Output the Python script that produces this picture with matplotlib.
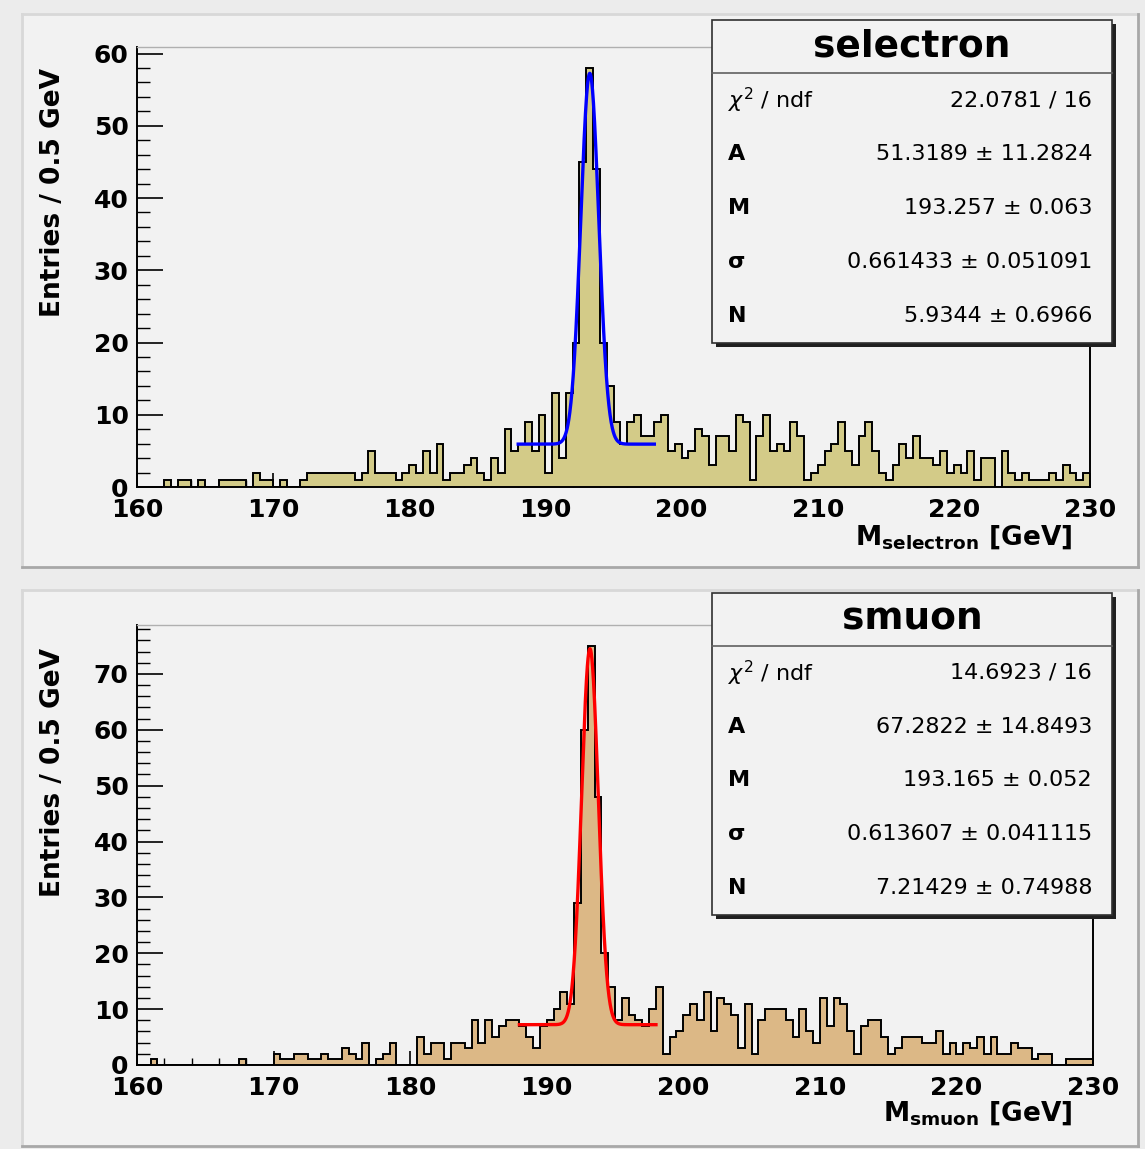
import numpy as np
import matplotlib
matplotlib.use("Agg")
import matplotlib.pyplot as plt
from matplotlib.patches import Rectangle
from matplotlib.lines import Line2D
from matplotlib.ticker import MultipleLocator

# ---------------- data ----------------
bin_edges = np.arange(160.0, 230.0001, 0.5)

selectron_counts = [
    0, 0, 0, 0, 1, 0, 1, 1, 0, 1,
    0, 0, 1, 1, 1, 1, 0, 2, 1, 1,
    0, 1, 0, 0, 1, 2, 2, 2, 2, 2,
    2, 2, 1, 2, 5, 2, 2, 2, 1, 2,
    3, 2, 5, 2, 6, 1, 2, 2, 3, 4,
    2, 1, 4, 2, 8, 5, 6, 9, 5, 10,
    2, 13, 4, 13, 20, 45, 58, 44, 20, 14,
    9, 6, 9, 10, 7, 7, 9, 10, 5, 6,
    4, 5, 8, 7, 3, 7, 7, 5, 10, 9,
    1, 7, 10, 5, 6, 5, 9, 7, 1, 2,
    3, 5, 6, 9, 5, 3, 7, 9, 5, 2,
    1, 3, 6, 4, 7, 4, 4, 3, 5, 2,
    3, 2, 5, 1, 4, 4, 0, 5, 2, 1,
    2, 1, 1, 1, 2, 1, 3, 2, 1, 2,
]

smuon_counts = [
    0, 0, 1, 0, 0, 0, 0, 0, 0, 0,
    0, 0, 0, 0, 0, 1, 0, 0, 0, 0,
    2, 1, 1, 2, 2, 1, 1, 2, 1, 1,
    3, 2, 1, 4, 0, 1, 2, 4, 0, 0,
    0, 5, 2, 4, 4, 1, 4, 4, 3, 8,
    4, 8, 5, 7, 8, 8, 7, 5, 3, 7,
    8, 10, 13, 11, 29, 60, 75, 48, 20, 14,
    8, 12, 9, 8, 7, 10, 14, 2, 5, 6,
    9, 11, 8, 13, 6, 12, 11, 9, 3, 11,
    2, 8, 10, 10, 10, 8, 5, 10, 6, 4,
    12, 7, 12, 11, 6, 2, 7, 8, 8, 5,
    2, 3, 5, 5, 5, 4, 4, 6, 2, 4,
    2, 4, 3, 5, 2, 5, 2, 2, 4, 3,
    3, 1, 2, 2, 0, 0, 1, 1, 1, 1,
]

# fit parameters (gaus + const), fit range
fit_range = [188.0, 198.0]
selectron_par_names = ["A", "M", "\u03c3", "N"]
selectron_par_vals = ["51.3189", "193.257", "0.661433", "5.9344"]
selectron_par_errs = ["11.2824", "0.063", "0.051091", "0.6966"]
selectron_chi2 = "22.0781 / 16"
selectron_fit = [51.3189, 193.257, 0.661433, 5.9344]

smuon_par_names = ["A", "M", "\u03c3", "N"]
smuon_par_vals = ["67.2822", "193.165", "0.613607", "7.21429"]
smuon_par_errs = ["14.8493", "0.052", "0.041115", "0.74988"]
smuon_chi2 = "14.6923 / 16"
smuon_fit = [67.2822, 193.165, 0.613607, 7.21429]

x_ticks = [160, 170, 180, 190, 200, 210, 220, 230]

# ---------------- layout ----------------
W, H = 1145, 1149
fig = plt.figure(figsize=(W / 100, H / 100), dpi=100)
fig.patch.set_facecolor("#ececec")
plt.rcParams["font.family"] = ["DejaVu Sans"]
plt.rcParams["mathtext.fontset"] = "dejavusans"

PAD_BG = "#f2f2f2"


def fx(x):
    return x / W


def fy(y):
    return 1 - y / H


def pad_box(x0, y0, x1, y1):
    r = Rectangle((fx(x0), fy(y1)), fx(x1) - fx(x0), fy(y0) - fy(y1),
                  transform=fig.transFigure, facecolor=PAD_BG,
                  edgecolor="none", zorder=0)
    fig.add_artist(r)
    fig.add_artist(Line2D([fx(x0), fx(x1)], [fy(y0), fy(y0)], transform=fig.transFigure, color="#d8d8d8", lw=2, zorder=1))
    fig.add_artist(Line2D([fx(x0), fx(x0)], [fy(y0), fy(y1)], transform=fig.transFigure, color="#d8d8d8", lw=2, zorder=1))
    fig.add_artist(Line2D([fx(x0), fx(x1)], [fy(y1), fy(y1)], transform=fig.transFigure, color="#a8a8a8", lw=2, zorder=1))
    fig.add_artist(Line2D([fx(x1), fx(x1)], [fy(y0), fy(y1)], transform=fig.transFigure, color="#a8a8a8", lw=2, zorder=1))


pad_box(22, 14, 1138, 567)
pad_box(22, 590, 1138, 1146)


def gaus_const(x, p):
    A, M, s, N = p
    return A * np.exp(-0.5 * ((x - M) / s) ** 2) + N


def draw_panel(frame, counts, fill, fitcolor, fitpar, ymax, yticks,
               title, chi2, names, vals, errs, box, xlab_sub, xlab_y, ylab_top):
    x0, y0, x1, y1 = frame
    ax = fig.add_axes([fx(x0), fy(y1), fx(x1) - fx(x0), fy(y0) - fy(y1)])
    ax.set_facecolor(PAD_BG)
    ax.stairs(counts, bin_edges, fill=True, color=fill, zorder=2)
    ax.stairs(counts, bin_edges, color="black", lw=1.4, zorder=3)
    xf = np.linspace(fit_range[0], fit_range[1], 600)
    ax.plot(xf, gaus_const(xf, fitpar), color=fitcolor, lw=2.4, zorder=4)
    ax.set_xlim(160, 230)
    ax.set_ylim(0, ymax)
    ax.set_xticks(x_ticks)
    ax.set_xticklabels([str(t) for t in x_ticks])
    ax.xaxis.set_minor_locator(MultipleLocator(2))
    ax.set_yticks(yticks)
    ax.yaxis.set_minor_locator(MultipleLocator(2))
    ax.tick_params(axis="x", which="major", direction="in", length=10, width=1.2,
                   labelsize=18, pad=8, top=False)
    ax.tick_params(axis="x", which="minor", direction="in", length=5, width=1.0, top=False)
    ax.tick_params(axis="y", which="major", direction="in", length=19, width=1.2,
                   labelsize=18, pad=6, right=False)
    ax.tick_params(axis="y", which="minor", direction="in", length=9.5, width=1.0, right=False)
    for lab in ax.get_xticklabels() + ax.get_yticklabels():
        lab.set_fontweight("bold")
    for side in ["left", "bottom", "right"]:
        ax.spines[side].set_color("black")
        ax.spines[side].set_linewidth(1.4)
    ax.spines["top"].set_color("#b0b0b0")
    ax.spines["top"].set_linewidth(1.0)
    fig.text(fx(53), fy(ylab_top), "Entries / 0.5 GeV", fontsize=19,
             fontweight="bold", rotation=90, ha="center", va="top")
    fig.text(fx(1072), fy(xlab_y),
             r"$\mathbf{M}_{\mathbf{%s}}$ [GeV]" % xlab_sub,
             fontsize=19, fontweight="bold", ha="right", va="center")

    # stats box
    bx0, by0, bx1, by1, bdiv = box
    sh = Rectangle((fx(bx0 + 4), fy(by1 + 4)), fx(bx1) - fx(bx0), fy(by0) - fy(by1),
                   transform=fig.transFigure, facecolor="#202020", edgecolor="none", zorder=9)
    fig.add_artist(sh)
    rb = Rectangle((fx(bx0), fy(by1)), fx(bx1) - fx(bx0), fy(by0) - fy(by1),
                   transform=fig.transFigure, facecolor=PAD_BG, edgecolor="#303030",
                   lw=1.2, zorder=10)
    fig.add_artist(rb)
    fig.add_artist(Line2D([fx(bx0), fx(bx1)], [fy(bdiv), fy(bdiv)],
                          transform=fig.transFigure, color="#606060", lw=1.2, zorder=11))
    fig.text(fx((bx0 + bx1) / 2), fy((by0 + bdiv) / 2), title, fontsize=27,
             fontweight="bold", ha="center", va="center", zorder=12)
    row_h = (by1 - bdiv) / 5.0
    rows = [(r"$\chi^{2}$ / ndf", chi2, "normal")]
    for n, v, e in zip(names, vals, errs):
        rows.append((n, "%s \u00b1 %s" % (v, e), "bold"))
    for i, (lab, val, w) in enumerate(rows):
        yy = bdiv + row_h * (i + 0.5)
        fig.text(fx(bx0 + 16), fy(yy), lab, fontsize=16, fontweight=w,
                 ha="left", va="center", zorder=12)
        fig.text(fx(bx1 - 20), fy(yy), val, fontsize=16, fontweight="normal",
                 ha="right", va="center", zorder=12)
    return ax


draw_panel((137, 47, 1090, 487), selectron_counts, "#d3cb88", "#0000ff", selectron_fit,
           60.9, [0, 10, 20, 30, 40, 50, 60],
           "selectron", selectron_chi2, selectron_par_names, selectron_par_vals,
           selectron_par_errs, (712, 20, 1112, 343, 73), "selectron", 537, 68)

draw_panel((137, 625, 1093, 1065), smuon_counts, "#dcb886", "#ff0000", smuon_fit,
           78.75, [0, 10, 20, 30, 40, 50, 60, 70],
           "smuon", smuon_chi2, smuon_par_names, smuon_par_vals,
           smuon_par_errs, (712, 593, 1112, 915, 646), "smuon", 1113, 648)

fig.savefig("out.png", dpi=100, facecolor=fig.get_facecolor())
